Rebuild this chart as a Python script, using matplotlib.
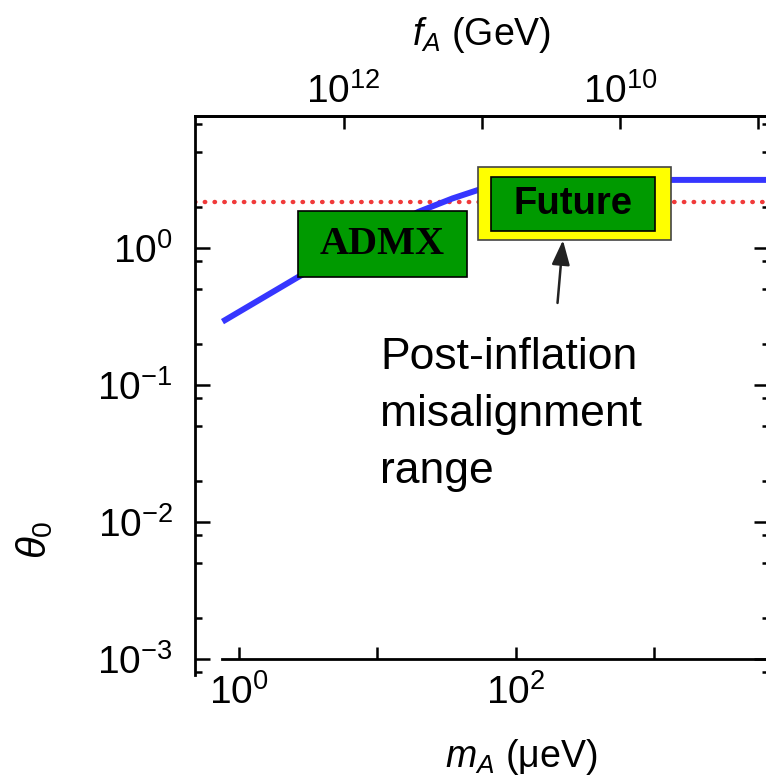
import matplotlib
matplotlib.use("Agg")
import matplotlib.pyplot as plt
from matplotlib.patches import Rectangle
from matplotlib.ticker import FixedLocator, NullLocator, LogLocator

# ================================
# Data
# ================================

# misalignment angle needed for axion DM vs axion mass (ueV)
mass_uev = [0.76, 2.76, 8.0, 19.7, 35.0, 53.5, 100.0, 200.0, 500.0, 1500.0, 7000.0]
theta0 = [0.29, 0.625, 1.1, 1.83, 2.3, 2.65, 2.95, 3.08, 3.13, 3.14, 3.14]

# post-inflation average misalignment angle
theta_post = 2.155

# experiment search ranges: (mass lo, mass hi), (theta lo, theta hi)
admx_mass = [2.67, 44.5]
admx_theta = [0.614, 1.86]
future_mass = [53.5, 1330.0]
future_theta = [1.14, 3.90]
future_inner_mass = [66.4, 1018.0]
future_inner_theta = [1.33, 3.30]

# m_A = 5.7 ueV * (1e12 GeV / f_A)
M_SCALE = 5.7e12

fa_ticks = [1e9, 1e10, 1e11, 1e12]
fa_ticklabels = ["", r"$10^{10}$", "", r"$10^{12}$"]
mass_ticks = [1e0, 1e1, 1e2, 1e3, 1e4]
mass_ticklabels = [r"$10^{0}$", "", r"$10^{2}$", "", r"$10^{4}$"]

# ================================
# Style
# ================================

plt.rcParams["font.family"] = ["Liberation Sans", "DejaVu Sans"]
plt.rcParams["mathtext.fontset"] = "custom"
plt.rcParams["mathtext.rm"] = "Liberation Sans"
plt.rcParams["mathtext.it"] = "Liberation Sans:italic"
plt.rcParams["axes.linewidth"] = 2.0

GREEN = "#009a00"
BLUE = "#3636ff"
RED = "#f03a3a"

fig = plt.figure(figsize=(7.66, 7.80), dpi=100)
ax = fig.add_axes([195 / 766, 105 / 780, 574 / 766, 559 / 780])

ax.set_xscale("log")
ax.set_yscale("log")
ax.set_xlim(0.481, 6795)
ax.set_ylim(7.64e-4, 9.19)

# curves
ax.axhline(theta_post, color=RED, lw=3.2, linestyle=(0, (0.1, 2.1)),
           dash_capstyle="round", zorder=2)
ax.plot(mass_uev, theta0, color=BLUE, lw=4.3, solid_capstyle="butt", zorder=3)

# search boxes
ax.add_patch(Rectangle((admx_mass[0], admx_theta[0]),
                       admx_mass[1] - admx_mass[0], admx_theta[1] - admx_theta[0],
                       facecolor=GREEN, edgecolor="black", lw=1.2, zorder=4))
ax.text((admx_mass[0] * admx_mass[1]) ** 0.5, (admx_theta[0] * admx_theta[1]) ** 0.5,
        "ADMX", family="Liberation Serif", weight="bold", fontsize=29,
        ha="center", va="center", zorder=5)

ax.add_patch(Rectangle((future_mass[0], future_theta[0]),
                       future_mass[1] - future_mass[0], future_theta[1] - future_theta[0],
                       facecolor="#ffff00", edgecolor="#444444", lw=1.2, zorder=4))
ax.add_patch(Rectangle((future_inner_mass[0], future_inner_theta[0]),
                       future_inner_mass[1] - future_inner_mass[0],
                       future_inner_theta[1] - future_inner_theta[0],
                       facecolor=GREEN, edgecolor="black", lw=1.2, zorder=4))
ax.text((future_inner_mass[0] * future_inner_mass[1]) ** 0.5,
        (future_inner_theta[0] * future_inner_theta[1]) ** 0.5,
        "Future", weight="bold", fontsize=27.5, ha="center", va="center", zorder=5)

# annotation
ax.annotate("", xy=(220, future_theta[0]), xytext=(201, 0.397),
            arrowprops=dict(arrowstyle="-|>,head_length=1.5,head_width=0.55",
                            color="#222222", lw=1.8, shrinkA=0, shrinkB=0),
            zorder=5)
ax.text(10.5, 0.061, "Post-inflation\nmisalignment\nrange", fontsize=32,
        ha="left", va="center", linespacing=1.5, zorder=5)

# ================================
# Axes
# ================================

ax.spines["bottom"].set_position(("data", 1e-3))
ax.spines["bottom"].set_bounds(0.753, 6795)

ax.xaxis.set_major_locator(FixedLocator(mass_ticks))
ax.set_xticklabels(mass_ticklabels)
ax.xaxis.set_minor_locator(NullLocator())
ax.yaxis.set_major_locator(LogLocator(base=10, numticks=10))
ax.yaxis.set_minor_locator(LogLocator(base=10, subs=(0.2, 0.5, 0.8), numticks=20))

ax.tick_params(axis="x", which="major", direction="in", length=9, width=1.8,
               labelsize=28, pad=11, top=False)
ax.tick_params(axis="y", which="major", direction="in", length=11, width=1.8,
               labelsize=28, pad=16, right=True)
ax.tick_params(axis="y", which="minor", direction="in", length=5, width=1.8,
               right=True)

ax.set_xlabel(r"$m_A$ (μeV)", fontsize=27, va="center")
ax.xaxis.set_label_coords(0.568, -0.147)
ax.set_ylabel(r"$\theta_0$", fontsize=29, va="center")
ax.yaxis.set_label_coords(-0.279, 0.2415)

sec = ax.secondary_xaxis("top", functions=(lambda m: M_SCALE / m,
                                           lambda f: M_SCALE / f))
sec.set_xticks(fa_ticks)
sec.set_xticklabels(fa_ticklabels)
sec.xaxis.set_minor_locator(NullLocator())
sec.tick_params(axis="x", which="major", direction="in", length=9, width=1.8,
                labelsize=28, pad=4)
sec.set_xlabel(r"$f_A$ (GeV)", fontsize=27, labelpad=20)

fig.savefig("out.png", dpi=100)
